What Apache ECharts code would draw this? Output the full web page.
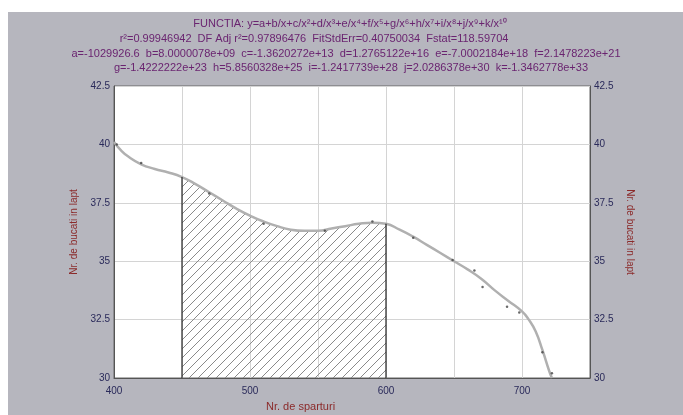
<!DOCTYPE html>
<html><head><meta charset="utf-8">
<script src="https://cdn.jsdelivr.net/npm/echarts@6/dist/echarts.min.js"></script>
<style>html,body{margin:0;padding:0;background:#fff}#c{width:683px;height:415px}</style>
</head><body><div id="c"></div>
<script>
// fitted curve (x, y)
const curveX = [400,405,410,420,430,440,450,460,470,480,490,500,510,520,530,540,550,560,570,580,590,600,610,620,630,640,650,660,670,680,690,700,705,710,715,720,722];
const curveY = [40.1,39.75,39.5,39.15,38.95,38.8,38.6,38.3,37.95,37.6,37.25,36.95,36.7,36.5,36.35,36.3,36.3,36.4,36.5,36.6,36.65,36.6,36.35,36.05,35.7,35.35,35.0,34.65,34.25,33.75,33.3,32.85,32.5,32.0,31.2,30.3,30.0];
// measured points
const pointX = [402,420,470,510,555,590,620,649,665,671,689,698,715,722];
const pointY = [40.0,39.2,37.9,36.6,36.3,36.7,36.0,35.05,34.6,33.9,33.05,32.8,31.1,30.2];
// integration limits
const areaFrom = 450, areaTo = 600;
const xTicks = [400,500,600,700];
const titleLines = [
  "FUNCTIA: y=a+b/x+c/x²+d/x³+e/x⁴+f/x⁵+g/x⁶+h/x⁷+i/x⁸+j/x⁹+k/x¹⁰",
  "r²=0.99946942  DF Adj r²=0.97896476  FitStdErr=0.40750034  Fstat=118.59704",
  "a=-1029926.6  b=8.0000078e+09  c=-1.3620272e+13  d=1.2765122e+16  e=-7.0002184e+18  f=2.1478223e+21",
  "g=-1.4222222e+23  h=5.8560328e+25  i=-1.2417739e+28  j=2.0286378e+30  k=-1.3462778e+33"
];
const yName = "Nr. de bucati in lapt";
const xName = "Nr. de sparturi";

const curve = curveX.map((x,i)=>[x,curveY[i]]);
const points = pointX.map((x,i)=>[x,pointY[i]]);
const areaData = curve.filter(p=>p[0]>=areaFrom && p[0]<=areaTo);
const yAt = x => curve.find(p=>p[0]===x)[1];

// hatch pattern
const pc = document.createElement('canvas');
pc.width = 9; pc.height = 9;
const g = pc.getContext('2d');
g.strokeStyle = '#8a8a8a'; g.lineWidth = 1;
g.beginPath(); g.moveTo(-1,10); g.lineTo(10,-1); g.stroke();
g.beginPath(); g.moveTo(-1,1); g.lineTo(1,-1); g.stroke();
g.beginPath(); g.moveTo(8,10); g.lineTo(10,8); g.stroke();

const chart = echarts.init(document.getElementById('c'));
const tcol = '#6a2470';
const ts = (fs)=>({fontSize:fs, fontWeight:'normal', color:tcol, fontFamily:'Liberation Sans'});
chart.setOption({
  backgroundColor: '#b6b6be',
  animation: false,
  title: [
    {text: titleLines[0], left: 345, top: 13, textAlign: 'center', textStyle: ts(11)},
    {text: titleLines[1], left: 309, top: 28, textAlign: 'center', textStyle: ts(11)},
    {text: titleLines[2], left: 341, top: 43, textAlign: 'center', textStyle: ts(11)},
    {text: titleLines[3], left: 346, top: 57, textAlign: 'center', textStyle: ts(11)}
  ],
  graphic: [
    {type:'rect', shape:{x:0,y:0,width:683,height:12}, style:{fill:'#ffffff'}, silent:true},
    {type:'rect', shape:{x:0,y:0,width:8,height:415}, style:{fill:'#ffffff'}, silent:true},
    {type:'text', left: 266, top: 401, style:{text: xName, fill:'#8b2a2a', font:'11px Liberation Sans'}}
  ],
  grid: {left:114, right:93, top:86, bottom:37, show:true, backgroundColor:'#ffffff', borderColor:'#666', borderWidth:1},
  xAxis: {
    type:'value', min:400, max:750, interval:50,
    axisLine:{show:true, lineStyle:{color:'#555'}},
    axisTick:{show:false},
    splitLine:{show:true, lineStyle:{color:'#d4d4d4', width:1}},
    axisLabel:{color:'#2a2a5a', fontSize:10, margin:8, fontFamily:'Liberation Sans',
      formatter: v => xTicks.includes(v) ? String(v) : ''}
  },
  yAxis: [
    {type:'value', min:30, max:42.5, interval:2.5, position:'left',
      name: yName, nameLocation:'middle', nameGap:30,
      nameTextStyle:{color:'#8b2a2a', fontSize:10, fontFamily:'Liberation Sans'},
      axisLine:{show:true, lineStyle:{color:'#555'}}, axisTick:{show:false},
      splitLine:{show:true, lineStyle:{color:'#d4d4d4'}},
      axisLabel:{color:'#2a2a5a', fontSize:10, margin:4, fontFamily:'Liberation Sans'}},
    {type:'value', min:30, max:42.5, interval:2.5, position:'right',
      name: yName, nameLocation:'middle', nameGap:34, nameRotate:-90,
      nameTextStyle:{color:'#8b2a2a', fontSize:10, fontFamily:'Liberation Sans'},
      axisLine:{show:true, lineStyle:{color:'#555'}}, axisTick:{show:false},
      splitLine:{show:false},
      axisLabel:{color:'#2a2a5a', fontSize:10, margin:4, fontFamily:'Liberation Sans'}}
  ],
  series: [
    {type:'line', data: areaData, showSymbol:false, smooth:true,
      lineStyle:{width:0}, areaStyle:{color:{image:pc, repeat:'repeat'}, origin:'start', opacity:1}, z:1},
    {type:'line', data: curve, showSymbol:false, smooth:true,
      lineStyle:{color:'#b0b0b0', width:2.5}, z:3},
    {type:'line', data: [[areaFrom,30],[areaFrom,yAt(areaFrom)]], showSymbol:false,
      lineStyle:{color:'#222', width:1.2}, z:4},
    {type:'line', data: [[areaTo,30],[areaTo,yAt(areaTo)]], showSymbol:false,
      lineStyle:{color:'#222', width:1.2}, z:4},
    {type:'scatter', data: points, symbolSize:2.5, itemStyle:{color:'#444'}, z:5}
  ]
});
</script></body></html>
